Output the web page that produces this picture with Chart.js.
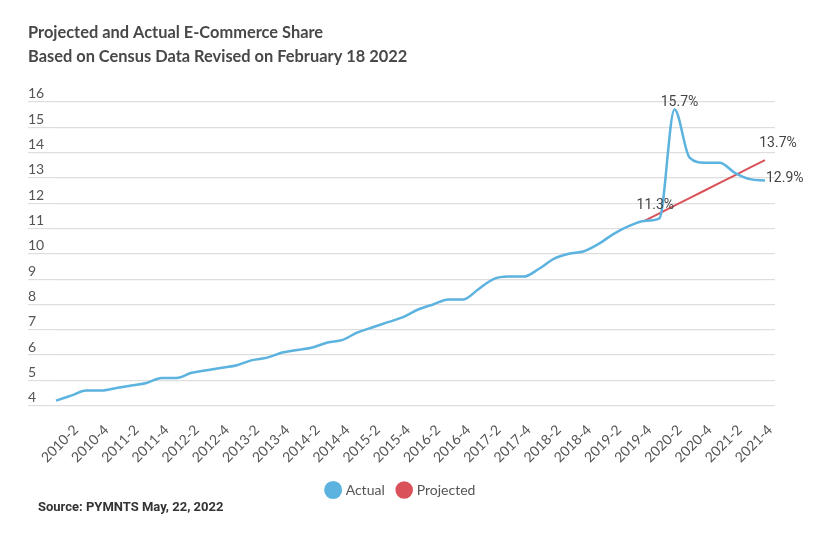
<!DOCTYPE html>
<html>
<head>
<meta charset="utf-8">
<script src="https://cdn.jsdelivr.net/npm/chart.js@4/dist/chart.umd.min.js"></script>
<style>
  html, body { margin: 0; padding: 0; background: #fff; }
  #wrap { position: relative; width: 832px; height: 540px; }
</style>
</head>
<body>
<div id="wrap"><canvas id="chart"></canvas></div>
<script>
// quarters shown on the x axis (every second one is labelled)
const quarters = [
  '2010-1','2010-2','2010-3','2010-4','2011-1','2011-2','2011-3','2011-4',
  '2012-1','2012-2','2012-3','2012-4','2013-1','2013-2','2013-3','2013-4',
  '2014-1','2014-2','2014-3','2014-4','2015-1','2015-2','2015-3','2015-4',
  '2016-1','2016-2','2016-3','2016-4','2017-1','2017-2','2017-3','2017-4',
  '2018-1','2018-2','2018-3','2018-4','2019-1','2019-2','2019-3','2019-4',
  '2020-1','2020-2','2020-3','2020-4','2021-1','2021-2','2021-3','2021-4'
];

// e-commerce share of retail, %
const actual = [
  4.2, 4.4, 4.6, 4.6, 4.7, 4.8, 4.9, 5.1,
  5.1, 5.3, 5.4, 5.5, 5.6, 5.8, 5.9, 6.1,
  6.2, 6.3, 6.5, 6.6, 6.9, 7.1, 7.3, 7.5,
  7.8, 8.0, 8.2, 8.2, 8.6, 9.0, 9.1, 9.1,
  9.4, 9.8, 10.0, 10.1, 10.4, 10.8, 11.1, 11.3,
  11.4, 15.7, 13.8, 13.6, 13.6, 13.2, 12.95, 12.9
];

// projection starts at 2019-4
const projectedFrom = '2019-4';
const projected = [11.3, 11.6, 11.9, 12.2, 12.5, 12.8, 13.1, 13.4, 13.7];

const yTicks = [4, 5, 6, 7, 8, 9, 10, 11, 12, 13, 14, 15, 16];

const seriesNames = ['Actual', 'Projected'];
const titleLines = ['Projected and Actual E-Commerce Share', 'Based on Census Data Revised on February 18 2022'];
const sourceText = 'Source: PYMNTS May, 22, 2022';

const BLUE = '#5cb3df';
const RED = '#d9525a';
const GRID = '#dedede';

const startIdx = quarters.indexOf(projectedFrom);
const projectedData = quarters.map((q, i) => i < startIdx ? null : projected[i - startIdx]);

// value labels: dataset, point index, text, placement
const callouts = [
  { ds: 0, idx: 41, text: '15.7%', align: 'center', dx: 5, dy: -7 },
  { ds: 1, idx: 0, text: '11.3%', align: 'center', dx: 11, dy: -15 },
  { ds: 1, idx: 8, text: '13.7%', align: 'center', dx: 13, dy: -17 },
  { ds: 0, idx: 47, text: '12.9%', align: 'left', dx: 1, dy: -2 }
];

const calloutPlugin = {
  id: 'callouts',
  afterDatasetsDraw(chart) {
    const ctx = chart.ctx;
    ctx.save();
    ctx.font = '14px Roboto';
    ctx.fillStyle = '#444';
    ctx.textBaseline = 'middle';
    callouts.forEach(c => {
      const meta = chart.getDatasetMeta(c.ds);
      const idx = c.ds === 1 ? startIdx + c.idx : c.idx;
      const pt = meta.data[idx];
      if (!pt) return;
      ctx.textAlign = c.align;
      ctx.fillText(c.text, pt.x + c.dx, pt.y + c.dy);
    });
    ctx.restore();
  }
};

const sourcePlugin = {
  id: 'source',
  afterDraw(chart) {
    const ctx = chart.ctx;
    ctx.save();
    ctx.font = 'bold 13px Roboto';
    ctx.fillStyle = '#333';
    ctx.textBaseline = 'middle';
    ctx.textAlign = 'left';
    ctx.fillText(sourceText, 38, 508);
    ctx.restore();
  }
};

new Chart(document.getElementById('chart'), {
  type: 'line',
  data: {
    labels: quarters,
    datasets: [
      {
        label: seriesNames[0],
        data: actual,
        borderColor: BLUE,
        backgroundColor: BLUE,
        borderWidth: 2.5,
        pointRadius: 0,
        cubicInterpolationMode: 'monotone'
      },
      {
        label: seriesNames[1],
        data: projectedData,
        borderColor: RED,
        backgroundColor: RED,
        borderWidth: 2,
        pointRadius: 0,
        tension: 0
      }
    ]
  },
  options: {
    responsive: true,
    maintainAspectRatio: false,
    animation: false,
    layout: { padding: { left: 28, right: 57, top: 0, bottom: 33 } },
    plugins: {
      title: {
        display: true,
        text: titleLines,
        align: 'start',
        color: '#484848',
        font: { family: 'Lato', size: 16.4, weight: 'bold', lineHeight: 1.46 },
        padding: { top: 21, bottom: 33 }
      },
      legend: {
        position: 'bottom',
        labels: {
          usePointStyle: true,
          pointStyle: 'circle',
          boxHeight: 11,
          boxWidth: 11,
          padding: 14,
          color: '#555',
          font: { family: 'Lato', size: 14 }
        }
      },
      tooltip: { enabled: false }
    },
    scales: {
      x: {
        grid: { display: false },
        border: { display: false },
        afterFit: s => { s.height -= 5; },
        ticks: {
          autoSkip: false,
          minRotation: 45,
          maxRotation: 45,
          padding: 8,
          labelOffset: 5,
          color: '#555',
          font: { family: 'Lato', size: 14 },
          callback: (v, i) => i % 2 === 1 ? quarters[i] : ''
        }
      },
      y: {
        min: yTicks[0],
        max: yTicks[yTicks.length - 1],
        afterBuildTicks: s => { s.ticks = yTicks.map(v => ({ value: v })); },
        afterFit: s => { s.width = 28; },
        grid: { color: GRID, lineWidth: 1.2, tickLength: 28, tickColor: GRID },
        border: { display: false },
        ticks: {
          crossAlign: 'far',
          labelOffset: -8,
          padding: 0,
          color: '#555',
          font: { family: 'Lato', size: 14 }
        }
      },
      yRight: {
        position: 'right',
        min: yTicks[0],
        max: yTicks[yTicks.length - 1],
        afterBuildTicks: s => { s.ticks = yTicks.map(v => ({ value: v })); },
        afterFit: s => { s.width = 10; },
        grid: { drawOnChartArea: false, color: GRID, lineWidth: 1.2, tickLength: 10, tickColor: GRID },
        border: { display: false },
        ticks: { display: false }
      }
    }
  },
  plugins: [calloutPlugin, sourcePlugin]
});
</script>
</body>
</html>
